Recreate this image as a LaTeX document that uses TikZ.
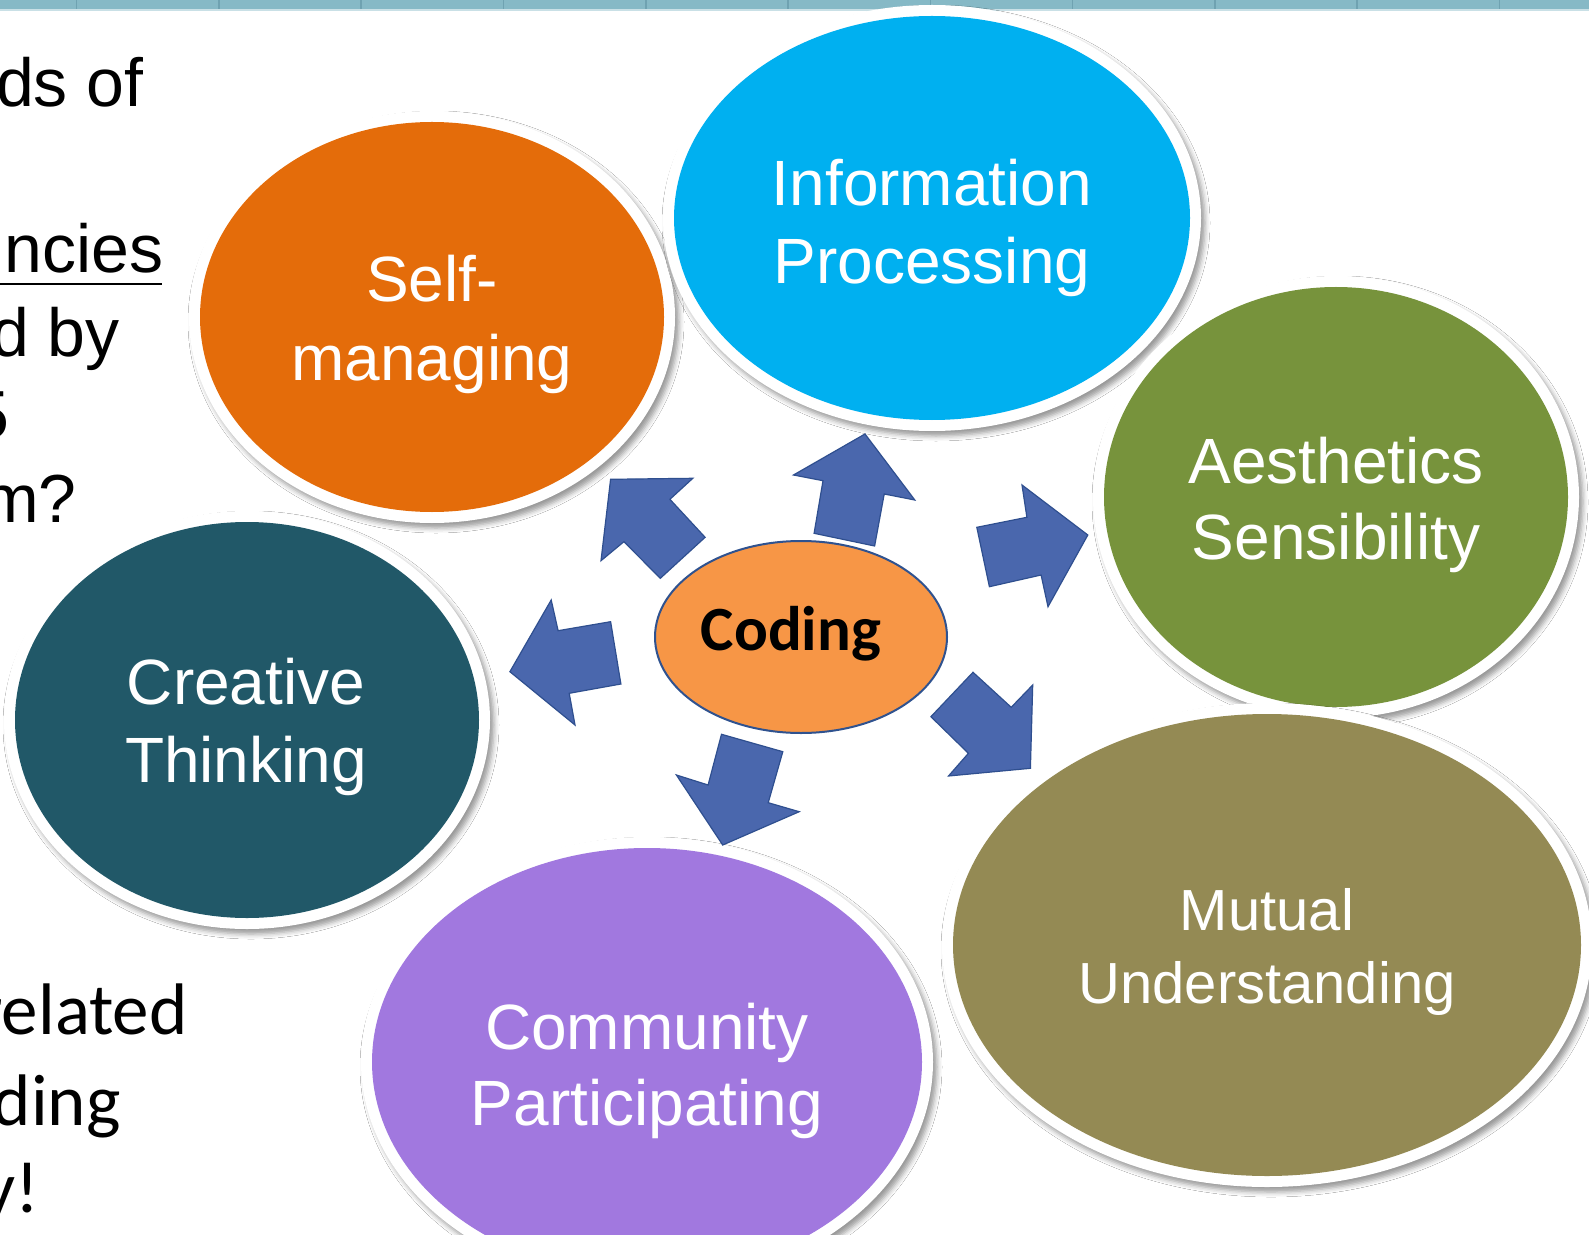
\documentclass[tikz,border=0pt]{standalone}
\usepackage{fontspec}
\setmainfont{Liberation Sans}
\newfontfamily\calfont{Carlito}
\usetikzlibrary{shapes.geometric,shadows.blur}
\definecolor{stripcol}{HTML}{86B9C6}
\definecolor{stripline}{HTML}{6FA2B1}
\definecolor{stripedge}{HTML}{C9E0E6}
\definecolor{infocol}{HTML}{00B0F0}
\definecolor{selfcol}{HTML}{E46C0A}
\definecolor{aescol}{HTML}{77933C}
\definecolor{crecol}{HTML}{215868}
\definecolor{mutcol}{HTML}{948A54}
\definecolor{comcol}{HTML}{A178DF}
\definecolor{codfill}{HTML}{F79646}
\definecolor{codline}{HTML}{2F528F}
\definecolor{arrfill}{HTML}{4A67AD}
\definecolor{arrline}{HTML}{2F4F8F}
\begin{document}
\begin{tikzpicture}[x=0.5pt,y=-0.5pt,
  ring/.style={ellipse, fill=white, draw=none, inner sep=0pt,
    blur shadow={shadow xshift=2pt, shadow yshift=-2.5pt, shadow blur radius=2.5pt, shadow opacity=40}},
  bubble/.style={ellipse, draw=none, inner sep=0pt},
  lbl/.style={anchor=base, text=white, inner sep=0pt, font=\fontsize{32}{38}\selectfont},
  lbls/.style={anchor=base, text=white, inner sep=0pt, font=\fontsize{29}{35}\selectfont},
  blockarrow/.style={fill=arrfill, draw=arrline, line width=0.6pt, line join=miter},
  lefttxt/.style={anchor=base east, inner sep=0pt, font=\fontsize{34}{40}\selectfont},
  lefttxtc/.style={anchor=base east, inner sep=0pt, font=\calfont\fontsize{36.5}{44}\selectfont},
]
\useasboundingbox (0,0) rectangle (1589,1235);
\clip (0,0) rectangle (1589,1235);
\fill[white] (0,0) rectangle (1589,1235);

% top strip
\fill[stripedge] (0,8) rectangle (1589,11);
\fill[stripcol] (0,0) rectangle (1589,9);
\foreach \i in {0,...,10} \draw[stripline, line width=0.8pt] (76.5+142.3*\i,0) -- ++(0,9);

% left text (cut off)
\node[lefttxt] (t1) at (144,107) {ds of};
\node[lefttxt] (t2) at (164,273) {ncies};
\draw[line width=1.4pt] (0,284) -- (162,284);
\node[lefttxt] (t3) at (120,357) {d by};
\node[lefttxt] (t4) at (10,438) {5};
\node[lefttxt] (t5) at (77,522) {m?};
\node[lefttxtc] (t6) at (188,1034) {related};
\node[lefttxtc] (t7) at (121,1125) {ding};
\node[lefttxtc] (t8) at (40,1212) {y!};

% bubbles
\node[ring, minimum width=243pt, minimum height=206pt] (selfW) at (432,317) {};
\node[bubble, fill=selfcol, minimum width=232pt, minimum height=195pt] (self) at (432,317) {};
\node[ring, minimum width=269pt, minimum height=213pt] (infoW) at (932,218) {};
\node[bubble, fill=infocol, minimum width=258pt, minimum height=202pt] (info) at (932,218) {};
\node[ring, minimum width=243pt, minimum height=221pt] (aesW) at (1336,497) {};
\node[bubble, fill=aescol, minimum width=232pt, minimum height=210pt] (aes) at (1336,497) {};
\node[ring, minimum width=243pt, minimum height=209pt] (creW) at (247,720) {};
\node[bubble, fill=crecol, minimum width=232pt, minimum height=198pt] (cre) at (247,720) {};
\node[ring, minimum width=325pt, minimum height=242pt] (mutW) at (1267,945) {};
\node[bubble, fill=mutcol, minimum width=314pt, minimum height=231pt] (mut) at (1267,945) {};
\node[ring, minimum width=286pt, minimum height=225pt] (comW) at (647,1062) {};
\node[bubble, fill=comcol, minimum width=275pt, minimum height=214pt] (com) at (647,1062) {};

% labels
\node[lbl] (infoA) at (932,206) {Information};
\node[lbl] (infoB) at (932,284) {Processing};
\node[lbl] (selfA) at (432,302) {Self-};
\node[lbl] (selfB) at (432,380) {managing};
\node[lbl] (aesA) at (1336,483) {Aesthetics};
\node[lbl] (aesB) at (1336,559) {Sensibility};
\node[lbl] (creA) at (246,704) {Creative};
\node[lbl] (creB) at (246,782) {Thinking};
\node[lbls] (mutA) at (1267,930) {Mutual};
\node[lbls] (mutB) at (1267,1003) {Understanding};
\node[lbl] (comA) at (647,1049) {Community};
\node[lbl] (comB) at (647,1125) {Participating};

% block arrows
\draw[blockarrow] (610.6,479.3) -- (692.8,478.3) -- (669.9,499.3) -- (705.1,537.3) -- (660.3,578.3) -- (623.9,541.7) -- (601,560.7) -- cycle;
\draw[blockarrow] (865,434) -- (914.8,500) -- (884.2,494) -- (874.6,546) -- (814.1,533.3) -- (823,480.7) -- (793.5,475) -- cycle;
\draw[blockarrow] (1087.8,535) -- (1022,485) -- (1026.9,517.3) -- (976.8,527.3) -- (989.4,586.7) -- (1041.1,575) -- (1048,606.7) -- cycle;
\draw[blockarrow] (509.9,671.7) -- (551.2,600) -- (558.1,630.7) -- (610.6,621.7) -- (620.9,684) -- (569.2,693.3) -- (575,725) -- cycle;
\draw[blockarrow] (722.7,845) -- (799.2,811.7) -- (768.2,802.7) -- (782.8,751.7) -- (721.5,734.3) -- (708.1,785) -- (676.4,775) -- cycle;
\draw[blockarrow] (1030.4,768.3) -- (1032.7,685) -- (1011.2,707.3) -- (973,672.3) -- (930.9,716.7) -- (968.4,753.3) -- (948.5,776) -- cycle;

% centre
\node[ellipse, fill=codfill, draw=codline, line width=1pt, inner sep=0pt, minimum width=146pt, minimum height=96pt] (coding) at (801,637) {};
\node[anchor=base, inner sep=0pt, font=\calfont\bfseries\fontsize{31.5}{38}\selectfont] (codingT) at (791,650) {Coding};
\end{tikzpicture}
\end{document}
